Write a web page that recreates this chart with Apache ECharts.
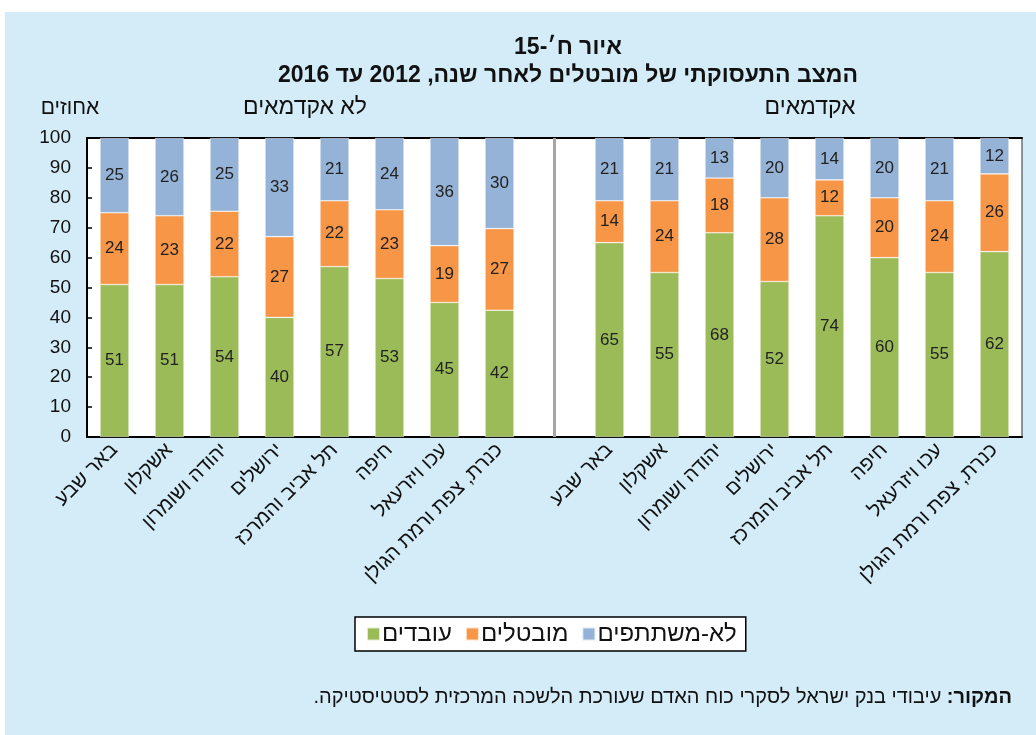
<!DOCTYPE html>
<html>
<head>
<meta charset="utf-8">
<script src="https://cdn.jsdelivr.net/npm/echarts@6/dist/echarts.min.js"></script>
<style>
    html, body { margin: 0; padding: 0; background: #fff; }
    #chart { width: 1036px; height: 735px; }
</style>
</head>
<body>
<div id="chart" dir="rtl"></div>
<script>
// אזורים - לא אקדמאים / אקדמאים
const regions = ['באר שבע', 'אשקלון', 'יהודה ושומרון', 'ירושלים', 'תל אביב והמרכז', 'חיפה', 'עכו ויזרעאל', 'כנרת, צפת ורמת הגולן'];

// לא אקדמאים (אחוזים)
const nonAcadEmployed = [51, 51, 53.6, 40, 57, 53, 45, 42.4];
const nonAcadUnemployed = [24, 23, 21.9, 27, 22, 23, 19, 27.3];
const nonAcadInactive = [25, 26, 24.5, 33, 21, 24, 36, 30.3];

// אקדמאים (אחוזים)
const acadEmployed = [65, 55, 68.3, 52, 74, 60, 55, 62];
const acadUnemployed = [14, 24, 18.3, 28, 12, 20, 24, 26];
const acadInactive = [21, 21, 13.4, 20, 14, 20, 21, 12];

const yTicks = {min: 0, max: 100, interval: 10};
const seriesNames = ['עובדים', 'מובטלים', 'לא-משתתפים'];
const colors = ['#9bbb59', '#f79646', '#95b3d7'];

// קטגוריה ריקה באמצע מפרידה בין שתי הקבוצות
const categories = regions.concat(['']).concat(regions);
const joinGroups = (a, b) => a.concat([null]).concat(b);

const seriesData = [
    joinGroups(nonAcadEmployed, acadEmployed),
    joinGroups(nonAcadUnemployed, acadUnemployed),
    joinGroups(nonAcadInactive, acadInactive)
];

const font = 'Liberation Sans';

let series = seriesNames.map(function (name, i) {
    return {
        name: name,
        type: 'bar',
        stack: 'total',
        barWidth: 29,
        data: seriesData[i],
        itemStyle: {color: colors[i], borderColor: 'rgba(255,255,255,0.7)', borderWidth: 0.6},
        label: {
            show: true,
            position: 'inside',
            color: '#222',
            fontFamily: font,
            fontSize: 17,
            formatter: function (p) {
                return p.value == null ? '' : Math.round(p.value);
            }
        }
    };
});

// קו מפריד אפור
series[0].markLine = {
    silent: true,
    symbol: 'none',
    label: {show: false},
    lineStyle: {color: '#a6a6a6', width: 3, type: 'solid'},
    data: [{xAxis: 8}]
};

let myChart = echarts.init(document.getElementById('chart'), null, {renderer: 'canvas'});

let option = {
    backgroundColor: '#fff',
    animation: false,
    color: colors,
    title: {
        text: 'איור ח׳-15\nהמצב התעסוקתי של מובטלים לאחר שנה, 2012 עד 2016',
        left: 563,
        top: 29,
        textAlign: 'center',
        textStyle: {fontFamily: font, fontWeight: 'bold', fontSize: 23, lineHeight: 28, color: '#111'}
    },
    graphic: [
        {type: 'rect', z: -10, shape: {x: 5, y: 12, width: 1031, height: 723}, style: {fill: '#d3ecf8'}},
        {type: 'text', x: 70, y: 108, style: {text: 'אחוזים', font: '21px ' + font, fill: '#111', align: 'center', verticalAlign: 'middle'}},
        {type: 'text', x: 305, y: 108, style: {text: 'לא אקדמאים', font: '23px ' + font, fill: '#111', align: 'center', verticalAlign: 'middle'}},
        {type: 'text', x: 810, y: 108, style: {text: 'אקדמאים', font: '23px ' + font, fill: '#111', align: 'center', verticalAlign: 'middle'}},
        {
            type: 'text', x: 1012, y: 697,
            style: {
                text: '{n|עיבודי בנק ישראל לסקרי כוח האדם שעורכת הלשכה המרכזית לסטטיסטיקה.} {b|המקור:}',
                align: 'right', verticalAlign: 'middle',
                font: '20px ' + font, fill: '#111',
                rich: {
                    n: {fontFamily: font, fontSize: 20, fill: '#111'},
                    b: {fontFamily: font, fontSize: 20, fontWeight: 'bold', fill: '#111'}
                }
            }
        }
    ],
    legend: {
        data: seriesNames,
        left: 355,
        top: 617,
        orient: 'horizontal',
        backgroundColor: '#fff',
        borderColor: '#000',
        borderWidth: 1.5,
        borderRadius: 0,
        padding: [5, 9, 5, 11],
        itemWidth: 13,
        itemHeight: 13,
        itemGap: 13,
        icon: 'rect',
        textStyle: {fontFamily: font, fontSize: 24, color: '#111', padding: [0, 0, 0, -3]}
    },
    grid: {
        left: 87,
        right: 14,
        top: 138,
        bottom: 298,
        show: true,
        backgroundColor: '#fff',
        borderColor: '#333',
        borderWidth: 1
    },
    xAxis: [
        {
            type: 'category',
            data: categories,
            axisLine: {lineStyle: {color: '#000', width: 2}},
            axisTick: {inside: true, length: 5, lineStyle: {color: '#000', width: 1.5}},
            axisLabel: {
                rotate: 45,
                interval: 0,
                margin: 10,
                color: '#111',
                fontFamily: font,
                fontSize: 20
            }
        },
        {
            type: 'category',
            position: 'top',
            data: categories,
            axisLine: {lineStyle: {color: '#000', width: 2}},
            axisTick: {show: false},
            axisLabel: {show: false}
        }
    ],
    yAxis: {
        type: 'value',
        min: yTicks.min,
        max: yTicks.max,
        interval: yTicks.interval,
        axisLine: {show: true, lineStyle: {color: '#000', width: 2}},
        axisTick: {show: true, inside: true, length: 5, lineStyle: {color: '#000', width: 1.5}},
        splitLine: {show: false},
        axisLabel: {color: '#111', fontFamily: font, fontSize: 19, margin: 16}
    },
    series: series
};

myChart.setOption(option);
</script>
</body>
</html>
